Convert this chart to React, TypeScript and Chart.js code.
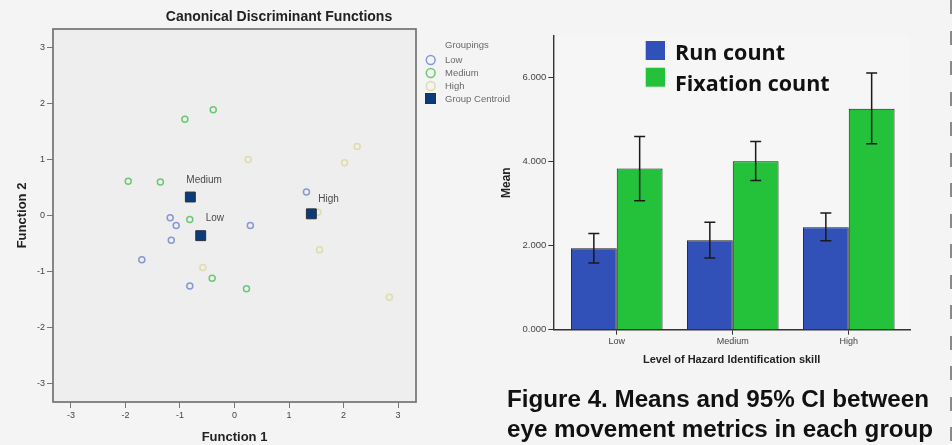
import React, { useEffect, useRef } from 'react';
import { Chart, registerables } from 'chart.js';

Chart.register(...registerables);

const FONT = '"Liberation Sans", Arial, Helvetica, sans-serif';
const LEGEND_FONT = '"Open Sans", "Liberation Sans", Arial, sans-serif';

// ---------- Canonical discriminant scatter ----------
const LOW_X = [-1.18, -1.07, -1.16, -1.70, -0.82, 0.29, 1.32];
const LOW_Y = [-0.04, -0.18, -0.44, -0.79, -1.26, -0.18, 0.42];
const MEDIUM_X = [-0.91, -0.39, -1.95, -1.36, -0.82, -0.41, 0.22];
const MEDIUM_Y = [1.72, 1.89, 0.61, 0.60, -0.07, -1.12, -1.31];
const HIGH_X = [0.25, 2.02, 2.25, 1.53, 1.56, -0.58, 2.84];
const HIGH_Y = [1.00, 0.94, 1.23, 0.06, -0.61, -0.93, -1.46];
const CENTROID_NAMES = ['Low', 'Medium', 'High'];
const CENTROID_X = [-0.62, -0.81, 1.41];
const CENTROID_Y = [-0.36, 0.33, 0.03];
const FUNCTION_TICKS = [-3, -2, -1, 0, 1, 2, 3];

// ---------- Means and 95% CI bar chart ----------
const SKILL_LEVELS = ['Low', 'Medium', 'High'];
const RUN_MEAN = [1.94, 2.13, 2.44];
const RUN_CI_LOW = [1.59, 1.71, 2.12];
const RUN_CI_HIGH = [2.29, 2.56, 2.78];
const FIX_MEAN = [3.84, 4.01, 5.26];
const FIX_CI_LOW = [3.07, 3.55, 4.43];
const FIX_CI_HIGH = [4.60, 4.48, 6.11];
const MEAN_TICKS = [0, 2, 4, 6];

const zip = (xs: number[], ys: number[]) => xs.map((x, i) => ({ x, y: ys[i] }));

export default function App() {
  const leftRef = useRef<HTMLCanvasElement | null>(null);
  const rightRef = useRef<HTMLCanvasElement | null>(null);

  useEffect(() => {
    const scatterDecor = {
      id: 'scatterDecor',
      beforeDraw(chart: any) {
        const { ctx, chartArea: a } = chart;
        ctx.save();
        ctx.fillStyle = '#eeeeee';
        ctx.fillRect(a.left, a.top, a.right - a.left, a.bottom - a.top);
        ctx.restore();
      },
      beforeDatasetsDraw(chart: any) {
        const { ctx, chartArea: a } = chart;
        ctx.save();
        ctx.strokeStyle = '#727272';
        ctx.lineWidth = 1.7;
        ctx.strokeRect(a.left, a.top, a.right - a.left, a.bottom - a.top);
        ctx.restore();
      },
      afterDraw(chart: any) {
        const { ctx } = chart;
        ctx.save();
        // centroid labels
        const meta = chart.getDatasetMeta(3);
        const dx = [5, -4, 7];
        const dy = [-17, -17, -15];
        ctx.font = `10px ${FONT}`;
        ctx.fillStyle = '#4a4a4a';
        ctx.textAlign = 'left';
        ctx.textBaseline = 'middle';
        meta.data.forEach((el: any, i: number) => {
          ctx.fillText(CENTROID_NAMES[i], el.x + dx[i], el.y + dy[i]);
        });
        // legend
        ctx.font = `9.5px ${FONT}`;
        ctx.fillStyle = '#6a6a6a';
        ctx.fillText('Groupings', 445, 45.7);
        chart.data.datasets.forEach((ds: any, i: number) => {
          const y = 60 + i * 13;
          if (ds.pointStyle === 'rect') {
            ctx.fillStyle = ds.backgroundColor;
            ctx.fillRect(425.5, y - 5.5, 10, 10);
            ctx.strokeStyle = ds.borderColor;
            ctx.lineWidth = 1;
            ctx.strokeRect(425.5, y - 5.5, 10, 10);
          } else {
            ctx.beginPath();
            ctx.arc(430.7, y, 4.4, 0, Math.PI * 2);
            ctx.strokeStyle = ds.borderColor;
            ctx.lineWidth = 1.5;
            ctx.stroke();
          }
          ctx.fillStyle = '#6a6a6a';
          ctx.fillText(ds.label, 445, y);
        });
        ctx.restore();
      },
    };

    const tickFont = { size: 9, family: FONT };
    const left = new Chart(leftRef.current as HTMLCanvasElement, {
      type: 'scatter',
      data: {
        datasets: [
          { label: 'Low', data: zip(LOW_X, LOW_Y), pointStyle: 'circle', pointRadius: 3, borderWidth: 1.5, borderColor: '#8797d6', backgroundColor: 'rgba(0,0,0,0)', order: 1 },
          { label: 'Medium', data: zip(MEDIUM_X, MEDIUM_Y), pointStyle: 'circle', pointRadius: 3, borderWidth: 1.5, borderColor: '#6cc874', backgroundColor: 'rgba(0,0,0,0)', order: 1 },
          { label: 'High', data: zip(HIGH_X, HIGH_Y), pointStyle: 'circle', pointRadius: 3, borderWidth: 1.5, borderColor: '#e0dbab', backgroundColor: 'rgba(0,0,0,0)', order: 1 },
          { label: 'Group Centroid', data: zip(CENTROID_X, CENTROID_Y), pointStyle: 'rect', pointRadius: 7, borderWidth: 1, borderColor: '#2b2f3a', backgroundColor: '#0b3b78', order: 0 },
        ],
      } as any,
      options: {
        animation: false,
        responsive: false,
        maintainAspectRatio: false,
        events: [],
        layout: { padding: { left: 0, top: 0, right: 0, bottom: 0 } },
        plugins: {
          legend: { display: false },
          tooltip: { enabled: false },
          title: {
            display: true,
            text: 'Canonical Discriminant Functions',
            color: '#222',
            font: { size: 14, weight: 'bold', family: FONT },
            padding: { top: 9.2, bottom: 3.0 },
          },
        },
        scales: {
          x: {
            type: 'linear',
            min: -3.33,
            max: 3.33,
            afterBuildTicks: (s: any) => { s.ticks = FUNCTION_TICKS.map((v) => ({ value: v })); },
            afterFit: (s: any) => { s.height = 43; },
            ticks: { callback: (v: any) => String(v), font: tickFont, color: '#444', padding: 2, maxRotation: 0, autoSkip: false },
            grid: { drawOnChartArea: false, drawTicks: true, tickLength: 6, color: '#777', lineWidth: 1 },
            border: { display: false },
            title: { display: true, text: 'Function 1', color: '#222', font: { size: 13, weight: 'bold', family: FONT }, padding: { top: 0, bottom: 0.2 } },
          },
          y: {
            type: 'linear',
            min: -3.33,
            max: 3.33,
            afterBuildTicks: (s: any) => { s.ticks = FUNCTION_TICKS.map((v) => ({ value: v })); },
            afterFit: (s: any) => { s.width = 53; },
            ticks: { callback: (v: any) => String(v), font: tickFont, color: '#444', padding: 2, autoSkip: false },
            grid: { drawOnChartArea: false, drawTicks: true, tickLength: 6, color: '#777', lineWidth: 1 },
            border: { display: false },
            title: { display: true, text: 'Function 2', color: '#222', font: { size: 13, weight: 'bold', family: FONT }, padding: { top: 14.2, bottom: 0 } },
          },
          y2: {
            type: 'linear',
            position: 'right',
            afterFit: (s: any) => { s.width = 142; },
            ticks: { display: false },
            grid: { display: false },
            border: { display: false },
          },
        },
      } as any,
      plugins: [scatterDecor],
    });

    const CI_LOW = [RUN_CI_LOW, FIX_CI_LOW];
    const CI_HIGH = [RUN_CI_HIGH, FIX_CI_HIGH];
    const barDecor = {
      id: 'barDecor',
      beforeDraw(chart: any) {
        const { ctx, chartArea: a } = chart;
        ctx.save();
        ctx.fillStyle = '#f6f6f6';
        ctx.fillRect(a.left, a.top, a.right - a.left, a.bottom - a.top);
        ctx.restore();
      },
      afterDatasetsDraw(chart: any) {
        const { ctx } = chart;
        const yScale = chart.scales.y;
        ctx.save();
        ctx.strokeStyle = '#1a1a1a';
        ctx.lineWidth = 1.5;
        chart.data.datasets.forEach((_: any, d: number) => {
          const meta = chart.getDatasetMeta(d);
          meta.data.forEach((el: any, i: number) => {
            const yh = yScale.getPixelForValue(CI_HIGH[d][i]);
            const yl = yScale.getPixelForValue(CI_LOW[d][i]);
            const x = el.x;
            ctx.beginPath();
            ctx.moveTo(x, yh); ctx.lineTo(x, yl);
            ctx.moveTo(x - 5.5, yh); ctx.lineTo(x + 5.5, yh);
            ctx.moveTo(x - 5.5, yl); ctx.lineTo(x + 5.5, yl);
            ctx.stroke();
          });
        });
        ctx.restore();
      },
      afterDraw(chart: any) {
        const { ctx } = chart;
        ctx.save();
        ctx.font = `bold 21.5px ${LEGEND_FONT}`;
        ctx.textAlign = 'left';
        ctx.textBaseline = 'alphabetic';
        const boxTop = [41, 67.7];
        const baseline = [60, 91];
        chart.data.datasets.forEach((ds: any, i: number) => {
          ctx.fillStyle = ds.backgroundColor;
          ctx.fillRect(175.7, boxTop[i], 19.3, 19);
          ctx.fillStyle = '#111';
          ctx.fillText(ds.label, 205, baseline[i]);
        });
        ctx.restore();
      },
    };

    const right = new Chart(rightRef.current as HTMLCanvasElement, {
      type: 'bar',
      data: {
        datasets: [
          { label: 'Run count', data: zip(RUN_MEAN.map((_, i) => i), RUN_MEAN), backgroundColor: '#3150b8', borderColor: '#1e1e1e', borderWidth: 1, categoryPercentage: 0.79, barPercentage: 1 },
          { label: 'Fixation count', data: zip(FIX_MEAN.map((_, i) => i), FIX_MEAN), backgroundColor: '#24c23b', borderColor: '#1e1e1e', borderWidth: 1, categoryPercentage: 0.79, barPercentage: 1 },
        ],
      } as any,
      options: {
        animation: false,
        responsive: false,
        maintainAspectRatio: false,
        events: [],
        layout: { padding: { left: 0, top: 35.7, right: 42, bottom: 0 } },
        plugins: { legend: { display: false }, tooltip: { enabled: false }, title: { display: false } },
        scales: {
          x: {
            type: 'linear',
            min: -0.547,
            max: 2.528,
            offset: false,
            afterBuildTicks: (s: any) => { s.ticks = SKILL_LEVELS.map((_, i) => ({ value: i })); },
            afterFit: (s: any) => { s.height = 40.3; },
            ticks: { callback: (v: any) => SKILL_LEVELS[v], font: { size: 9, family: FONT }, color: '#444', padding: 1, maxRotation: 0, autoSkip: false },
            grid: { offset: false, drawOnChartArea: false, drawTicks: true, tickLength: 5, color: '#333', lineWidth: 1 },
            border: { display: true, color: '#333', width: 1.4 },
            title: { display: true, text: 'Level of Hazard Identification skill', color: '#222', font: { size: 11, weight: 'bold', family: FONT }, padding: { top: 0, bottom: 3.9 } },
          },
          y: {
            type: 'linear',
            min: 0,
            max: 7,
            afterBuildTicks: (s: any) => { s.ticks = MEAN_TICKS.map((v) => ({ value: v })); },
            afterFit: (s: any) => { s.width = 83.3; },
            ticks: { callback: (v: any) => Number(v).toFixed(3), font: { size: 9.5, family: FONT }, color: '#444', padding: 2, autoSkip: false },
            grid: { drawOnChartArea: false, drawTicks: true, tickLength: 5, color: '#333', lineWidth: 1 },
            border: { display: true, color: '#333', width: 1.4 },
            title: { display: true, text: 'Mean', color: '#222', font: { size: 12, weight: 'bold', family: FONT }, padding: { top: 29.5, bottom: 0 } },
          },
        },
      } as any,
      plugins: [barDecor],
    });

    return () => {
      left.destroy();
      right.destroy();
    };
  }, []);

  return (
    <div
      style={{
        position: 'fixed',
        left: 0,
        top: 0,
        width: 952,
        height: 445,
        overflow: 'hidden',
        background: '#f4f4f4',
      }}
    >
      <canvas ref={leftRef} width={558} height={445} style={{ position: 'absolute', left: 0, top: 0 }} />
      <canvas ref={rightRef} width={482} height={370} style={{ position: 'absolute', left: 470, top: 0 }} />
      <div
        style={{
          position: 'absolute',
          left: 507,
          top: 384,
          fontFamily: FONT,
          fontWeight: 'bold',
          fontSize: '24.2px',
          lineHeight: '29.5px',
          color: '#111',
          whiteSpace: 'nowrap',
        }}
      >
        Figure 4. Means and 95% CI between
        <br />
        eye movement metrics in each group
      </div>
      <div
        style={{
          position: 'absolute',
          left: 950,
          top: 0,
          width: 2,
          height: 445,
          background: 'repeating-linear-gradient(to bottom, #8a8a8a 0px, #8a8a8a 14px, rgba(0,0,0,0) 14px, rgba(0,0,0,0) 30.5px)',
        }}
      />
    </div>
  );
}
